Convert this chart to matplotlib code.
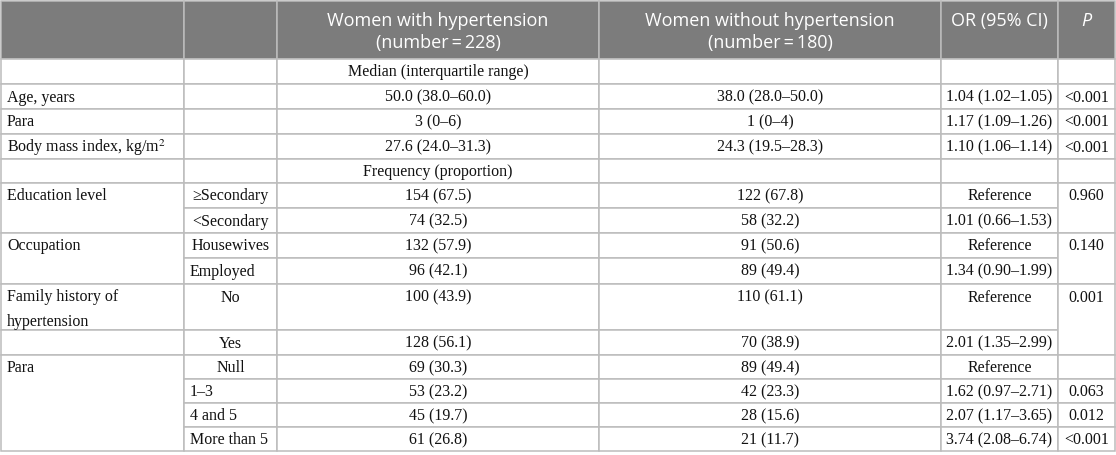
import matplotlib
matplotlib.use('Agg')
import matplotlib.pyplot as plt
from matplotlib.patches import Rectangle

# ---- table contents ----
header = ["", "", "Women with hypertension\n(number\u2009=\u2009228)",
          "Women without hypertension\n(number\u2009=\u2009180)", "OR (95% CI)", "P"]

# first column: (label, number of rows it spans)
variables = [("", 1), ("Age, years", 1), ("Para", 1), ("Body mass index, kg/m$^2$", 1),
             ("", 1), ("Education level", 2), ("Occupation", 2),
             ("Family history of\nhypertension", 1), ("", 1), ("Para", 4)]
levels = ["", "", "", "", "", "\u2265Secondary", "<Secondary", "Housewives", "Employed",
          "No", "Yes", "Null", "1\u20133", "4 and 5", "More than 5"]
with_htn = ["Median (interquartile range)", "50.0 (38.0\u201360.0)", "3 (0\u20136)",
            "27.6 (24.0\u201331.3)", "Frequency (proportion)", "154 (67.5)", "74 (32.5)",
            "132 (57.9)", "96 (42.1)", "100 (43.9)", "128 (56.1)", "69 (30.3)",
            "53 (23.2)", "45 (19.7)", "61 (26.8)"]
without_htn = ["", "38.0 (28.0\u201350.0)", "1 (0\u20134)", "24.3 (19.5\u201328.3)", "",
               "122 (67.8)", "58 (32.2)", "91 (50.6)", "89 (49.4)", "110 (61.1)",
               "70 (38.9)", "89 (49.4)", "42 (23.3)", "28 (15.6)", "21 (11.7)"]
odds_ratio = ["", "1.04 (1.02\u20131.05)", "1.17 (1.09\u20131.26)", "1.10 (1.06\u20131.14)", "",
              "Reference", "1.01 (0.66\u20131.53)", "Reference", "1.34 (0.90\u20131.99)",
              "Reference", "2.01 (1.35\u20132.99)", "Reference", "1.62 (0.97\u20132.71)",
              "2.07 (1.17\u20133.65)", "3.74 (2.08\u20136.74)"]
p_values = [("", 1), ("<0.001", 1), ("<0.001", 1), ("<0.001", 1), ("", 1),
            ("0.960", 2), ("0.140", 2), ("0.001", 2), ("", 1),
            ("0.063", 1), ("0.012", 1), ("<0.001", 1)]

# ---- layout (pixels) ----
col_x = [1, 184, 277, 599, 941, 1058, 1115]
header_h = 59
row_h = [25, 25, 25, 25, 24, 25, 25, 25, 26, 46, 25, 24, 24, 24, 24]
level_align = ["center"] * 8 + ["left", "center", "center", "center", "left", "left", "left"]

line_col = "#bcbcbc"
head_col = "#7c7c7c"
body_font = ["Liberation Serif", "DejaVu Serif"]
head_font = ["Open Sans", "DejaVu Sans"]
plt.rcParams['mathtext.fontset'] = 'stix'

row_top = [header_h]
for h in row_h:
    row_top.append(row_top[-1] + h)

fig = plt.figure(figsize=(11.16, 4.55), dpi=100)
ax = fig.add_axes([0, 0, 1, 1])
ax.set_xlim(0, 1116)
ax.set_ylim(455, 0)
ax.axis('off')


def cell(col, r0, span, text, align="center", head=False):
    x0, x1 = col_x[col], col_x[col + 1]
    if head:
        y0, y1 = 1, header_h
    else:
        y0, y1 = row_top[r0], row_top[r0 + span]
    ax.add_patch(Rectangle((x0, y0), x1 - x0, y1 - y0,
                           facecolor=head_col if head else "white",
                           edgecolor=line_col, lw=1.1, zorder=1))
    if not text:
        return
    tx = x0 + 6 if align == "left" else (x0 + x1) / 2
    if head:
        style = "italic" if text == "P" else "normal"
        ax.text(tx, y0 + 11, text, ha=align, va="top", color="white",
                fontsize=13, family=head_font, style=style, linespacing=1.3, zorder=3)
    elif "\n" in text:
        ax.text(tx, y0 + 5, text, ha=align, va="top", color="#111111",
                fontsize=11.5, family=body_font, linespacing=1.75, zorder=3)
    else:
        ax.text(tx, y0 + 13.5, text, ha=align, va="center", color="#111111",
                fontsize=11.5, family=body_font, zorder=3)


for c, t in enumerate(header):
    cell(c, 0, 1, t, head=True)

r = 0
for label, span in variables:
    cell(0, r, span, label, align="left")
    r += span

for i in range(len(levels)):
    cell(1, i, 1, levels[i], align=level_align[i])
    cell(2, i, 1, with_htn[i])
    cell(3, i, 1, without_htn[i])
    cell(4, i, 1, odds_ratio[i])

r = 0
for p, span in p_values:
    cell(5, r, span, p)
    r += span

fig.savefig("out.png", dpi=100)
